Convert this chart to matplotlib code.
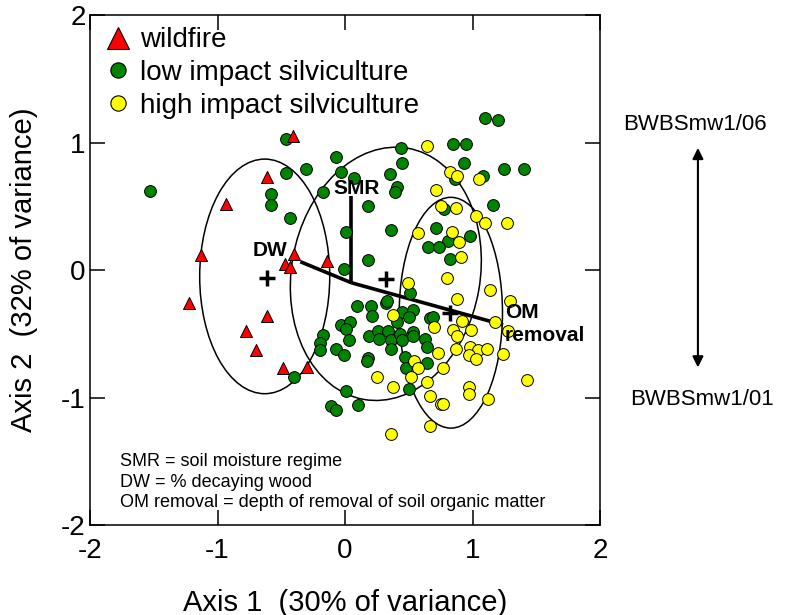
import matplotlib
matplotlib.use("Agg")
import matplotlib.pyplot as plt
from matplotlib.patches import Ellipse, FancyArrowPatch
from matplotlib.lines import Line2D

plt.rcParams['font.family'] = ['Liberation Sans', 'DejaVu Sans']

# --- data ---
wildfire_x = [-0.41, -0.61, -0.93, -1.13, -0.40, -0.47, -0.43, -0.14, -1.22, -0.61, -0.78, -0.70, -0.49, -0.30]
wildfire_y = [1.05, 0.73, 0.52, 0.12, 0.125, 0.05, 0.02, 0.07, -0.26, -0.36, -0.48, -0.63, -0.77, -0.76]

low_x = [-1.53, -0.46, -0.07, 0.44, -0.46, -0.31, -0.03, 0.07, 0.45, 0.35, 0.41, 0.39, -0.58, -0.58,
         -0.17, 0.18, -0.43, 0.005, 0.36, 0.65, 0.18, -0.01, 0.51, 0.09, 0.20, 0.21, 0.32, 0.33,
         0.45, 0.53, 0.50, 0.41, -0.03, 0.04, 0.01, -0.17, -0.20, -0.20, 0.03, 0.19, 0.26, 0.27,
         0.34, 0.36, 0.43, 0.45, 0.53, 0.53, 0.63, 0.64, 0.36, -0.07, -0.01, 0.18, 0.17, 0.47,
         0.48, 0.50, -0.40, 0.01, 0.10, -0.11, -0.07, 1.10, 1.20, 0.85, 0.95, 0.93, 0.86, 1.08,
         1.25, 1.40, 1.16, 0.78, 0.71, 0.98, 0.81, 0.74, 0.82, 0.67, 0.69, 0.64]
low_y = [0.62, 1.03, 0.89, 0.96, 0.76, 0.79, 0.77, 0.72, 0.84, 0.75, 0.65, 0.61, 0.60, 0.51,
         0.61, 0.50, 0.41, 0.30, 0.31, 0.18, 0.08, 0.01, -0.18, -0.28, -0.28, -0.36, -0.26, -0.24,
         -0.33, -0.31, -0.37, -0.41, -0.43, -0.41, -0.46, -0.51, -0.57, -0.63, -0.55, -0.52, -0.48, -0.54,
         -0.48, -0.55, -0.50, -0.55, -0.49, -0.52, -0.54, -0.60, -0.62, -0.62, -0.67, -0.69, -0.71, -0.68,
         -0.77, -0.93, -0.84, -0.95, -1.06, -1.07, -1.10, 1.19, 1.18, 0.99, 0.99, 0.84, 0.71, 0.74,
         0.79, 0.79, 0.51, 0.48, 0.33, 0.27, 0.23, 0.18, 0.09, -0.38, -0.37, -0.73]

high_x = [0.64, 0.57, 0.49, 0.38, 0.54, 0.57, 0.52, 0.64, 0.25, 0.38, 0.36, 0.67, 0.67, 0.82,
          0.88, 1.05, 0.71, 0.75, 0.87, 1.03, 1.10, 1.27, 0.84, 0.89, 0.91, 0.80, 1.14, 0.88,
          1.29, 0.70, 0.92, 0.85, 0.88, 0.99, 1.18, 1.28, 0.87, 0.98, 1.04, 1.11, 0.97, 1.03,
          1.24, 0.73, 0.77, 1.43, 0.97, 0.97, 1.12, 0.75, 0.77]
high_y = [0.97, 0.29, -0.10, -0.35, -0.71, -0.77, -0.84, -0.88, -0.84, -0.92, -1.29, -1.22, -0.99, 0.77,
          0.74, 0.71, 0.63, 0.50, 0.49, 0.42, 0.37, 0.37, 0.30, 0.22, 0.10, -0.06, -0.16, -0.23,
          -0.24, -0.45, -0.40, -0.47, -0.52, -0.47, -0.41, -0.48, -0.62, -0.60, -0.63, -0.62, -0.67, -0.70,
          -0.66, -0.65, -0.77, -0.86, -0.92, -0.97, -1.01, -1.05, -1.05]

# group centroids (+) and confidence ellipses
centroid_x = [-0.61, 0.32, 0.82]
centroid_y = [-0.06, -0.07, -0.34]
ellipse_cx = [-0.63, 0.32, 0.83]
ellipse_cy = [-0.05, -0.03, -0.335]
ellipse_w = [1.02, 1.48, 0.81]
ellipse_h = [1.84, 2.0, 1.81]
ellipse_angle = [0, -10, 0]

# environmental vectors
vec_origin = (0.05, -0.10)
vec_end_x = [0.05, -0.35, 1.24]
vec_end_y = [0.58, 0.065, -0.43]

fig = plt.figure(figsize=(7.94, 6.15), dpi=100)
ax = fig.add_axes([0.1134, 0.1463, 0.6423, 0.8293])

for cx, cy, w, h, a in zip(ellipse_cx, ellipse_cy, ellipse_w, ellipse_h, ellipse_angle):
    ax.add_patch(Ellipse((cx, cy), w, h, angle=a, fill=False, ec='black', lw=1.1, zorder=1))

for ex, ey in zip(vec_end_x, vec_end_y):
    ax.plot([vec_origin[0], ex], [vec_origin[1], ey], color='black', lw=2.6,
            solid_capstyle='butt', zorder=2)

ax.scatter(low_x, low_y, s=72, marker='o', c='#008400', edgecolors='black', linewidths=0.7, zorder=3)
ax.scatter(high_x, high_y, s=72, marker='o', c='#ffff00', edgecolors='black', linewidths=0.7, zorder=3)
ax.scatter(wildfire_x, wildfire_y, s=75, marker='^', c='#ff0000', edgecolors='black', linewidths=0.7, zorder=4)
ax.plot(centroid_x, centroid_y, ls='', marker='+', ms=11, mew=2.5, color='black', zorder=5)

bold = dict(fontsize=15, fontweight='bold', zorder=6)
ax.text(0.094, 0.643, 'SMR', ha='center', va='center', **bold)
ax.text(-0.59, 0.155, 'DW', ha='center', va='center', **bold)
ax.text(1.255, -0.425, 'OM\nremoval', ha='left', va='center', linespacing=1.3, **bold)

ax.text(-1.765, -1.665, 'SMR = soil moisture regime\nDW = % decaying wood\n'
        'OM removal = depth of removal of soil organic matter',
        ha='left', va='center', fontsize=13, linespacing=1.27)

ax.set_xlim(-2, 2)
ax.set_ylim(-2, 2)
ax.set_xticks([-2, -1, 0, 1, 2])
ax.set_yticks([-2, -1, 0, 1, 2])
ax.set_xticklabels(['-2', '-1', '0', '1', '2'])
ax.set_yticklabels(['-2', '-1', '0', '1', '2'])
ax.tick_params(direction='in', length=11, width=1.1, top=True, right=True, labelsize=20)
ax.tick_params(axis='x', pad=9)
ax.tick_params(axis='y', pad=3)
for sp in ax.spines.values():
    sp.set_linewidth(1.1)

ax.set_xlabel('Axis 1  (30% of variance)', fontsize=21, labelpad=18)
ax.set_ylabel('Axis 2  (32% of variance)', fontsize=21, labelpad=17)

handles = [
    Line2D([], [], ls='', marker='^', ms=16, mfc='#ff0000', mec='black', mew=0.8),
    Line2D([], [], ls='', marker='o', ms=11, mfc='#008400', mec='black', mew=0.8),
    Line2D([], [], ls='', marker='o', ms=11, mfc='#ffff00', mec='black', mew=0.8),
]
ax.legend(handles, ['wildfire', 'low impact silviculture', 'high impact silviculture'],
          loc='upper left', bbox_to_anchor=(0.0, 1.003), frameon=False, fontsize=20,
          handlelength=1.0, handletextpad=0.3, labelspacing=0.24, borderpad=0.2,
          borderaxespad=0.3)

fig.text(0.875, 0.797, 'BWBSmw1/06', ha='center', va='center', fontsize=16)
fig.text(0.884, 0.350, 'BWBSmw1/01', ha='center', va='center', fontsize=16)
fig.add_artist(FancyArrowPatch((0.879, 0.764), (0.879, 0.398),
               transform=fig.transFigure, arrowstyle='<|-|>', mutation_scale=16,
               color='black', lw=1.5))

fig.savefig('out.png', dpi=100)
